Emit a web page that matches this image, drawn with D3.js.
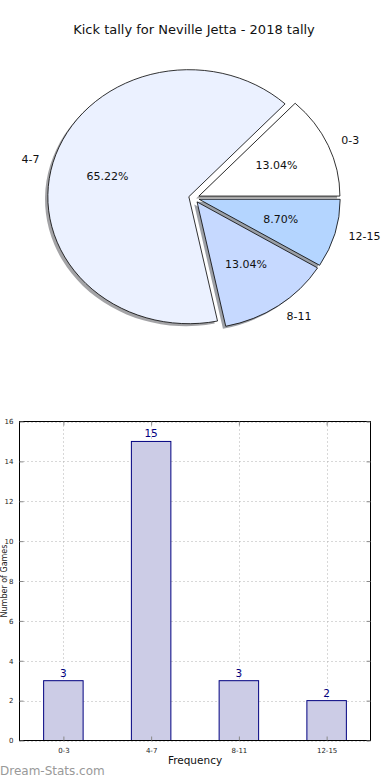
<!DOCTYPE html>
<html><head><meta charset="utf-8">
<script src="https://cdn.jsdelivr.net/npm/d3@7"></script>
<style>body{margin:0;background:#fff}svg{display:block;font-family:"DejaVu Sans",sans-serif}</style>
</head><body><svg id="c" width="390" height="780"></svg>
<script>
const title = "Kick tally for Neville Jetta - 2018 tally";
const categories = ["0-3", "4-7", "8-11", "12-15"];
const values = [3, 15, 3, 2];
const sliceColors = ["#ffffff", "#ebf1ff", "#c6d9ff", "#b4d5ff"];
const yTicks = [0, 2, 4, 6, 8, 10, 12, 14, 16];
const xLabel = "Frequency";
const yLabel = "Number of Games";

const svg = d3.select("#c");
svg.append("text").attr("x", 194).attr("y", 34).attr("text-anchor", "middle")
  .attr("font-size", 13).attr("fill", "#111").text(title);

// ---- Pie ----
const cx = 194, cy = 198, rx = 141, ry = 127, explode = 0.038;
const total = d3.sum(values);
const pie = d3.pie().sort(null).startAngle(Math.PI / 2).endAngle(Math.PI / 2 - 2 * Math.PI);
const arcs = pie(values);
const arc = d3.arc().innerRadius(0).outerRadius(rx);
const pg = svg.append("g");
function off(d) {
  const a = (d.startAngle + d.endAngle) / 2;
  return [explode * rx * Math.sin(a), -explode * ry * Math.cos(a), a];
}
arcs.forEach((d, i) => {
  const [ox, oy] = off(d);
  const c = d3.rgb(sliceColors[i]);
  pg.append("path")
    .attr("transform", `translate(${cx + ox - 0.02 * rx},${cy + oy + 0.02 * ry}) scale(1,${ry / rx})`)
    .attr("d", arc(d))
    .attr("fill", d3.rgb(c.r * 0.3, c.g * 0.3, c.b * 0.3)).attr("fill-opacity", 0.5);
});
arcs.forEach((d, i) => {
  const [ox, oy] = off(d);
  pg.append("path")
    .attr("transform", `translate(${cx + ox},${cy + oy}) scale(1,${ry / rx})`)
    .attr("d", arc(d))
    .attr("fill", sliceColors[i]).attr("stroke", "#000").attr("stroke-width", 0.8)
    .attr("vector-effect", "non-scaling-stroke").attr("stroke-linejoin", "miter");
});
arcs.forEach((d, i) => {
  const [ox, oy, a] = off(d);
  const px = cx + ox, py = cy + oy;
  const sx = Math.sin(a), sy = -Math.cos(a);
  pg.append("text").attr("x", px + 0.6 * rx * sx).attr("y", py + 0.6 * ry * sy)
    .attr("text-anchor", "middle").attr("dominant-baseline", "central")
    .attr("font-size", 11).attr("fill", "#111")
    .text((values[i] / total * 100).toFixed(2) + "%");
  pg.append("text").attr("x", px + 1.1 * rx * sx).attr("y", py + 1.1 * ry * sy)
    .attr("text-anchor", sx > 0 ? "start" : "end").attr("dominant-baseline", "central")
    .attr("font-size", 11).attr("fill", "#111").text(categories[i]);
});

// ---- Bar chart ----
const L = 19.5, R = 370.5, T = 421.5, B = 740.5;
const x = d3.scaleLinear().domain([-0.5, categories.length - 0.5]).range([L, R]);
const y = d3.scaleLinear().domain([0, 16]).range([B, T]);
const bw = 0.45;
const bg = svg.append("g");
bg.selectAll(".gy").data(yTicks).join("line")
  .attr("x1", L).attr("x2", R).attr("y1", d => Math.round(y(d)) + 0.5).attr("y2", d => Math.round(y(d)) + 0.5)
  .attr("stroke", "#b0b0b0").attr("stroke-width", 1).attr("stroke-dasharray", "1,3");
bg.selectAll(".gx").data(categories).join("line")
  .attr("x1", (d, i) => Math.round(x(i)) + 0.5).attr("x2", (d, i) => Math.round(x(i)) + 0.5)
  .attr("y1", T).attr("y2", B)
  .attr("stroke", "#b0b0b0").attr("stroke-width", 1).attr("stroke-dasharray", "1,3");
bg.selectAll(".bar").data(values).join("rect")
  .attr("x", (d, i) => x(i - bw / 2)).attr("width", x(bw) - x(0))
  .attr("y", d => y(d)).attr("height", d => y(0) - y(d))
  .attr("fill", "#ccccE6").attr("stroke", "#000080").attr("stroke-width", 1);
bg.selectAll(".vl").data(values).join("text")
  .attr("x", (d, i) => x(i)).attr("y", d => y(d) - 4)
  .attr("text-anchor", "middle").attr("font-size", 10.5).attr("fill", "#000080").text(d => d);
bg.append("rect").attr("x", L).attr("y", T).attr("width", R - L).attr("height", B - T)
  .attr("fill", "none").attr("stroke", "#000").attr("stroke-width", 1);
const ya = d3.axisLeft(y).tickValues(yTicks).tickSize(-4).tickPadding(6);
bg.append("g").attr("transform", `translate(${L},0)`).call(ya)
  .call(g => { g.select(".domain").remove(); g.selectAll("line").attr("stroke", "#888");
    g.selectAll("text").attr("font-size", 7).attr("font-family", "DejaVu Sans").attr("fill", "#222"); });
const ya2 = d3.axisRight(y).tickValues(yTicks).tickSize(-4).tickFormat("");
bg.append("g").attr("transform", `translate(${R},0)`).call(ya2)
  .call(g => { g.select(".domain").remove(); g.selectAll("line").attr("stroke", "#888"); });
const xa = d3.axisBottom(x).tickValues(d3.range(categories.length)).tickFormat(i => categories[i]).tickSize(-4).tickPadding(8);
bg.append("g").attr("transform", `translate(0,${B})`).call(xa)
  .call(g => { g.select(".domain").remove(); g.selectAll("line").attr("stroke", "#888");
    g.selectAll("text").attr("font-size", 7).attr("font-family", "DejaVu Sans").attr("fill", "#222"); });
const xa2 = d3.axisTop(x).tickValues(d3.range(categories.length)).tickSize(-4).tickFormat("");
bg.append("g").attr("transform", `translate(0,${T})`).call(xa2)
  .call(g => { g.select(".domain").remove(); g.selectAll("line").attr("stroke", "#888"); });
svg.append("text").attr("x", (L + R) / 2).attr("y", 764).attr("text-anchor", "middle")
  .attr("font-size", 10.5).attr("fill", "#111").text(xLabel);
svg.append("text").attr("transform", `translate(7,${(T + B) / 2}) rotate(-90)`)
  .attr("text-anchor", "middle").attr("font-size", 8).attr("fill", "#222").text(yLabel);
svg.append("text").attr("x", 0).attr("y", 775).attr("font-size", 12)
  .attr("fill", "#999").text("Dream-Stats.com");
</script></body></html>
